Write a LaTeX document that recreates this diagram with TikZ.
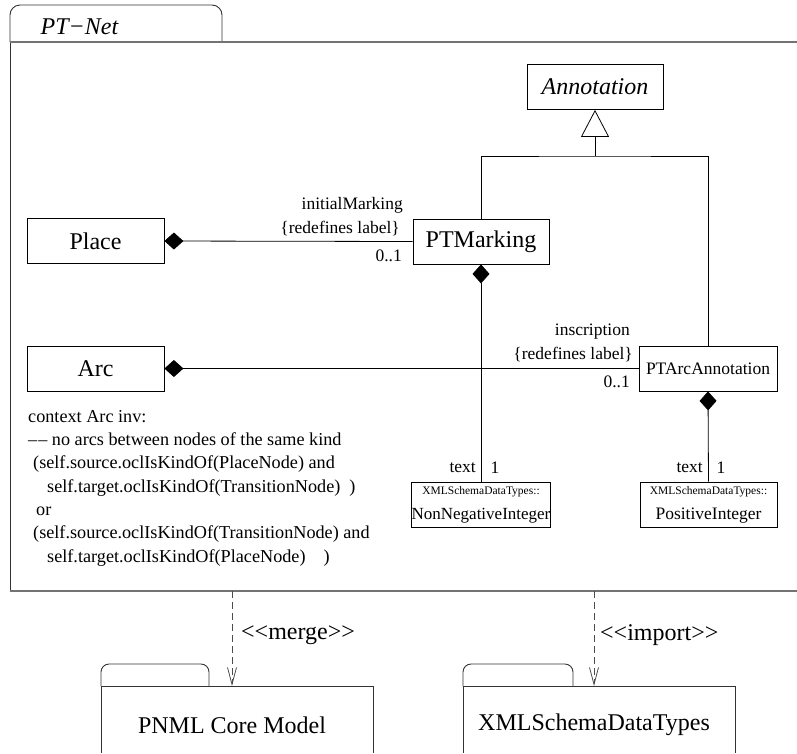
\documentclass[tikz,border=0pt]{standalone}
\usepackage{fontspec}
\setmainfont{Liberation Serif}
\usetikzlibrary{arrows.meta}
\begin{document}
\begin{tikzpicture}[x=1pt,y=-1pt,
  frameline/.style={draw=black!55, line width=1.5pt},
  pkgline/.style={draw=black!80, line width=0.9pt},
  classbox/.style={draw, line width=0.8pt, inner sep=0pt, minimum width=136pt, minimum height=45pt, font=\fontsize{24}{28}\selectfont},
  smallbox/.style={classbox, font=\fontsize{17.5}{21}\selectfont},
  rolelabel/.style={font=\fontsize{17.5}{21}\selectfont, inner sep=0pt},
  pkgname/.style={font=\fontsize{24}{28}\selectfont, inner sep=0pt},
  link/.style={draw, line width=0.8pt},
  composite/.style={link, {Diamond[length=19pt,width=17pt]}-},
  generalization/.style={link, -{Triangle[open, length=27pt, width=28pt, line width=0.8pt]}},
  dependency/.style={draw=black!70, line width=0.8pt, dash pattern=on 7pt off 4pt,
    -{Straight Barb[length=17pt, width=9pt, line width=0.8pt]}},
]
\useasboundingbox (0,0) rectangle (797,753);

% enclosing package PT-Net
\draw[pkgline, rounded corners=10pt] (10,42) -- (10,5) -- (222,5) -- (222,42);
\draw[pkgline] (10,42) -- (10,591);
\draw[frameline] (10,42) -- (797,42);
\draw[frameline] (10,591) -- (797,591);
\node[pkgname, font=\fontsize{24}{28}\selectfont\itshape] (ptnet) at (79.5,27) {PT−Net};

% classes
\node[classbox, font=\fontsize{24}{28}\selectfont\itshape] (annotation) at (595,87) {Annotation};
\node[classbox] (ptmarking) at (481,241.5) {PTMarking};
\node[classbox, minimum width=137pt] (place) at (95.5,241) {Place};
\node[classbox, minimum width=137pt] (arc) at (95.5,368.5) {Arc};
\node[smallbox, minimum width=138pt] (ptarc) at (708,368.5) {PTArcAnnotation};
\node[smallbox, align=center, font=\fontsize{17}{21}\selectfont] (nonneg) at (481,504.5)
  {{\fontsize{11.5}{14}\selectfont XMLSchemaDataTypes::}\\[4pt]NonNegativeInteger};
\node[smallbox, minimum width=137pt, align=center] (posint) at (708.5,504.5)
  {{\fontsize{11.5}{14}\selectfont XMLSchemaDataTypes::}\\[4pt]PositiveInteger};

% generalization
\coordinate (genjoin) at (595,156);
\draw[link] (ptmarking.north) |- (genjoin) -| (ptarc.north);
\draw[generalization] (genjoin) -- (annotation.south);

% compositions
\draw[composite] (place.east) -- (ptmarking.west);
\draw[composite] (arc.east) -- (ptarc.west);
\draw[composite] (ptmarking.south) -- (nonneg.north);
\draw[composite] (ptarc.south) -- (posint.north);

% association end labels
\node[rolelabel, anchor=east] (imname) at (403,205) {initialMarking};
\node[rolelabel, anchor=east] (imredef) at (400,229) {\{redefines label\}};
\node[rolelabel, anchor=east] (immult) at (402,256) {0..1};
\node[rolelabel, anchor=east] (insname) at (630,332) {inscription};
\node[rolelabel, anchor=east] (insredef) at (633,355) {\{redefines label\}};
\node[rolelabel, anchor=east] (insmult) at (630,382) {0..1};
\node[rolelabel, anchor=east] (txtone) at (476,468) {text};
\node[rolelabel] (multone) at (495,468) {1};
\node[rolelabel, anchor=east] (txttwo) at (703,468) {text};
\node[rolelabel] (multtwo) at (721,468) {1};

% OCL constraint
\node[rolelabel, anchor=north west, align=left, font=\fontsize{18.2}{23.3}\selectfont] (ocl) at (28,410)
  {context Arc inv:\\
   –\kern1pt–\ no arcs between nodes of the same kind\\
   \hspace*{5pt}(self.source.oclIsKindOf(PlaceNode) and\\
   \hspace*{19pt}self.target.oclIsKindOf(TransitionNode)\hspace{9pt})\\
   \hspace*{8pt}or\\
   \hspace*{5pt}(self.source.oclIsKindOf(TransitionNode) and\\
   \hspace*{19pt}self.target.oclIsKindOf(PlaceNode)\hspace{18pt})};

% referenced packages
\draw[pkgline, rounded corners=8pt] (101,686) -- (101,664) -- (209,664) -- (209,686);
\draw[pkgline] (101,753) -- (101,686) -- (373,686) -- (373,753);
\node[pkgname] (pnml) at (232,725) {PNML Core Model};
\draw[pkgline, rounded corners=8pt] (463,686) -- (463,664) -- (573,664) -- (573,686);
\draw[pkgline] (463,753) -- (463,686) -- (735,686) -- (735,753);
\node[pkgname] (xsd) at (594,725) {XMLSchemaDataTypes};

% package dependencies
\coordinate (mergefrom) at (232,591);
\coordinate (mergeto) at (232,686);
\coordinate (importfrom) at (594,591);
\coordinate (importto) at (594,686);
\draw[dependency] (mergefrom) -- (mergeto);
\draw[dependency] (importfrom) -- (importto);
\node[pkgname, anchor=west] (mergelbl) at (241,635) {<\kern0pt<merge>\kern0pt>};
\node[pkgname, anchor=west] (importlbl) at (600,635) {<\kern0pt<import>\kern0pt>};
\end{tikzpicture}
\end{document}
